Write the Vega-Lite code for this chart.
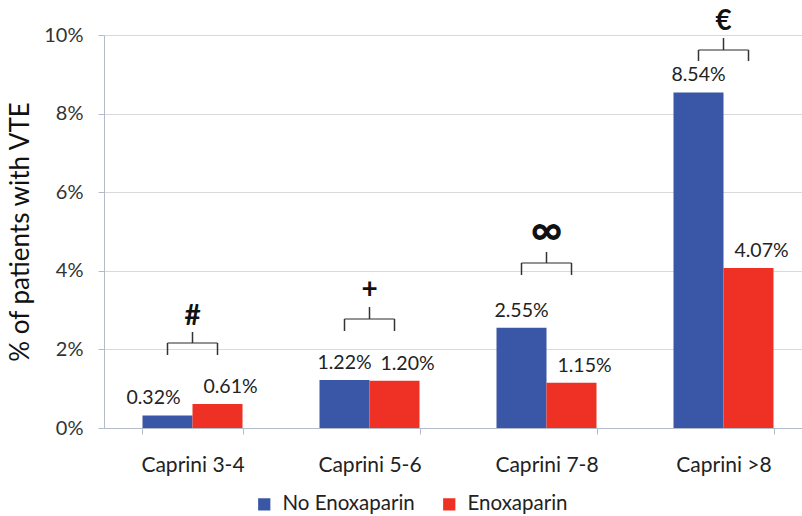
{
  "$schema": "https://vega.github.io/schema/vega-lite/v6.json",
  "width": 708,
  "height": 393,
  "autosize": {"type": "none"},
  "padding": {"left": 104, "top": 35, "right": 0, "bottom": 88},
  "background": "white",
  "config": {
    "font": "Lato",
    "view": {"stroke": null},
    "axis": {"domainColor": "#b3bcc8", "tickColor": "#b3bcc8", "gridColor": "#d9d9d9", "labelFont": "Lato", "titleFont": "Lato"}
  },
  "datasets": {
    "bars": [
      {"group": "Caprini 3-4", "series": "No Enoxaparin", "value": 0.0032},
      {"group": "Caprini 3-4", "series": "Enoxaparin", "value": 0.0061},
      {"group": "Caprini 5-6", "series": "No Enoxaparin", "value": 0.0122},
      {"group": "Caprini 5-6", "series": "Enoxaparin", "value": 0.0120},
      {"group": "Caprini 7-8", "series": "No Enoxaparin", "value": 0.0255},
      {"group": "Caprini 7-8", "series": "Enoxaparin", "value": 0.0115},
      {"group": "Caprini >8", "series": "No Enoxaparin", "value": 0.0854},
      {"group": "Caprini >8", "series": "Enoxaparin", "value": 0.0407}
    ],
    "brackets": [
      {"group": "Caprini 3-4", "mid": 0.02163, "leg": 0.01857, "top": 0.02443, "sym": 0.0283, "symbol": "#"},
      {"group": "Caprini 5-6", "mid": 0.02774, "leg": 0.02468, "top": 0.03079, "sym": 0.0351, "symbol": "+"},
      {"group": "Caprini 7-8", "mid": 0.04198, "leg": 0.03893, "top": 0.04478, "sym": 0.0499, "symbol": "∞"},
      {"group": "Caprini >8", "mid": 0.09618, "leg": 0.09338, "top": 0.09924, "sym": 0.1033, "symbol": "€"}
    ]
  },
  "encoding": {
    "x": {
      "field": "group",
      "type": "nominal",
      "sort": ["Caprini 3-4", "Caprini 5-6", "Caprini 7-8", "Caprini >8"],
      "scale": {"paddingInner": 0.435, "paddingOuter": 0.2175},
      "axis": {"title": null, "labelAngle": 0, "labelFontSize": 21, "labelColor": "#222222", "tickBand": "extent", "tickSize": 6, "labelPadding": 20, "grid": false}
    }
  },
  "layer": [
    {
      "data": {"name": "bars"},
      "mark": {"type": "bar"},
      "encoding": {
        "xOffset": {"field": "series", "type": "nominal", "sort": ["No Enoxaparin", "Enoxaparin"], "scale": {"paddingInner": 0, "paddingOuter": 0}},
        "y": {
          "field": "value",
          "type": "quantitative",
          "scale": {"domain": [0, 0.1]},
          "axis": {"values": [0, 0.02, 0.04, 0.06, 0.08, 0.1], "format": ".0%", "labelFontSize": 20, "labelColor": "#333333", "tickSize": 6, "labelPadding": 15, "title": "% of patients with VTE", "titleFontSize": 26, "titleFontWeight": "normal", "titleColor": "#111111", "titlePadding": 10, "grid": true}
        },
        "color": {
          "field": "series",
          "type": "nominal",
          "scale": {"domain": ["No Enoxaparin", "Enoxaparin"], "range": ["#3a56a6", "#ee3124"]},
          "legend": {"orient": "none", "legendX": 150, "legendY": 459, "direction": "horizontal", "title": null, "symbolType": "square", "symbolSize": 150, "symbolStrokeWidth": 0, "labelFontSize": 20.5, "labelColor": "#222222", "columnPadding": 24, "labelOffset": 8}
        }
      }
    },
    {
      "data": {"name": "bars"},
      "transform": [{"filter": "datum.series === 'No Enoxaparin' && datum.group !== 'Caprini 3-4'"}],
      "mark": {"type": "text", "baseline": "middle", "dy": -17, "fontSize": 19.5, "color": "#222222"},
      "encoding": {
        "xOffset": {"field": "series", "type": "nominal", "sort": ["No Enoxaparin", "Enoxaparin"]},
        "y": {"field": "value", "type": "quantitative"},
        "text": {"field": "value", "type": "quantitative", "format": ".2%"}
      }
    },
    {
      "data": {"name": "bars"},
      "transform": [{"filter": "datum.series === 'No Enoxaparin' && datum.group === 'Caprini 3-4'"}],
      "mark": {"type": "text", "baseline": "middle", "dy": -17, "dx": -14, "fontSize": 19.5, "color": "#222222"},
      "encoding": {
        "xOffset": {"field": "series", "type": "nominal", "sort": ["No Enoxaparin", "Enoxaparin"]},
        "y": {"field": "value", "type": "quantitative"},
        "text": {"field": "value", "type": "quantitative", "format": ".2%"}
      }
    },
    {
      "data": {"name": "bars"},
      "transform": [{"filter": "datum.series === 'Enoxaparin'"}],
      "mark": {"type": "text", "baseline": "middle", "dy": -17, "dx": 13, "fontSize": 19.5, "color": "#222222"},
      "encoding": {
        "xOffset": {"field": "series", "type": "nominal", "sort": ["No Enoxaparin", "Enoxaparin"]},
        "y": {"field": "value", "type": "quantitative"},
        "text": {"field": "value", "type": "quantitative", "format": ".2%"}
      }
    },
    {
      "data": {"name": "bars"},
      "transform": [{"lookup": "group", "from": {"data": {"name": "brackets"}, "key": "group", "fields": ["mid", "leg"]}}],
      "mark": {"type": "rule", "color": "#333333", "strokeWidth": 1.5},
      "encoding": {
        "xOffset": {"field": "series", "type": "nominal", "sort": ["No Enoxaparin", "Enoxaparin"]},
        "y": {"field": "mid", "type": "quantitative"},
        "y2": {"field": "leg"}
      }
    },
    {
      "data": {"name": "brackets"},
      "mark": {"type": "tick", "color": "#333333", "size": 50, "thickness": 1.5, "orient": "horizontal"},
      "encoding": {
        "y": {"field": "mid", "type": "quantitative"}
      }
    },
    {
      "data": {"name": "brackets"},
      "mark": {"type": "rule", "color": "#333333", "strokeWidth": 1.5},
      "encoding": {
        "y": {"field": "mid", "type": "quantitative"},
        "y2": {"field": "top"}
      }
    },
    {
      "data": {"name": "brackets"},
      "mark": {"type": "text", "baseline": "middle", "fontWeight": "bold", "color": "#111111"},
      "encoding": {
        "y": {"field": "sym", "type": "quantitative"},
        "text": {"field": "symbol", "type": "nominal"},
        "size": {"condition": {"test": "datum.symbol === '∞'", "value": 44}, "value": 28}
      }
    }
  ]
}
